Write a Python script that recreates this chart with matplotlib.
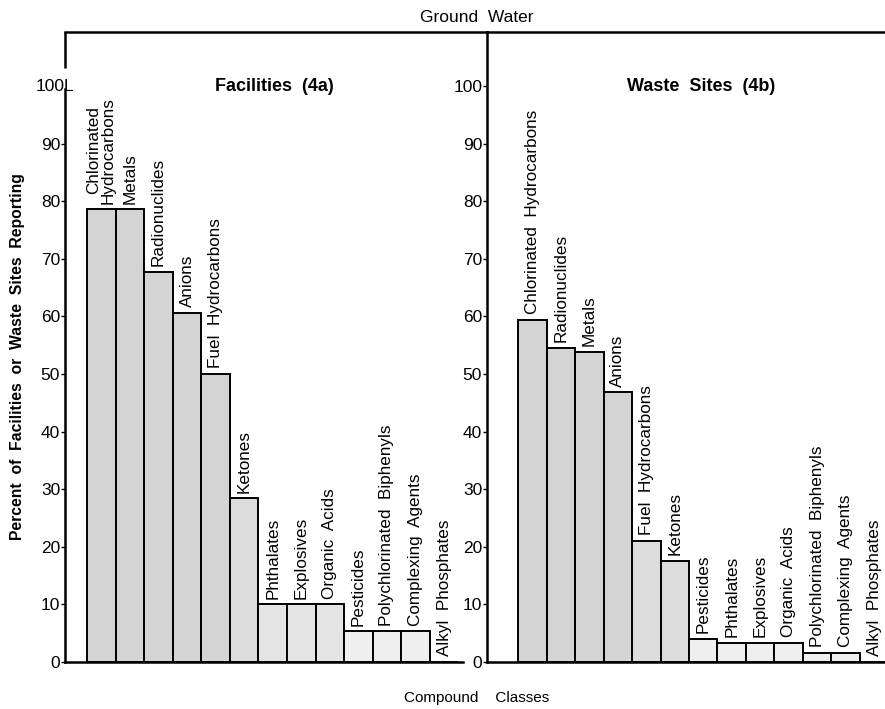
import matplotlib
matplotlib.use("Agg")
import matplotlib.pyplot as plt
from matplotlib.transforms import blended_transform_factory

plt.rcParams['font.family'] = ['Liberation Sans', 'DejaVu Sans']

# ---- data ----
fac_classes = ["Chlorinated\nHydrocarbons", "Metals", "Radionuclides", "Anions",
               "Fuel  Hydrocarbons", "Ketones", "Phthalates", "Explosives",
               "Organic  Acids", "Pesticides", "Polychlorinated  Biphenyls",
               "Complexing  Agents", "Alkyl  Phosphates"]
fac_values = [78.6, 78.6, 67.7, 60.6, 50.0, 28.4, 10.0, 10.0, 10.0, 5.3, 5.3, 5.3, 0.0]

ws_classes = ["Chlorinated  Hydrocarbons", "Radionuclides", "Metals", "Anions",
              "Fuel  Hydrocarbons", "Ketones", "Pesticides", "Phthalates",
              "Explosives", "Organic  Acids", "Polychlorinated  Biphenyls",
              "Complexing  Agents", "Alkyl  Phosphates"]
ws_values = [59.4, 54.5, 53.8, 46.8, 21.0, 17.5, 4.0, 3.3, 3.3, 3.3, 1.6, 1.6, 0.0]

left_yticks = [0, 10, 20, 30, 40, 50, 60, 70, 80, 90]
left_ticklabels = ["0", "10", "20", "30", "40", "50", "60", "70", "80", "90"]
right_yticks = [0, 10, 20, 30, 40, 50, 60, 70, 80, 90, 100]
right_ticklabels = [str(v) for v in right_yticks]

W, H = 885, 709
fig = plt.figure(figsize=(W / 100, H / 100), dpi=100)


def box(x0, x1, y0, y1):
    return [x0 / W, 1 - y1 / H, (x1 - x0) / W, (y1 - y0) / H]


def shade(v):
    if v >= 45:
        return '#d4d4d4'
    if v >= 15:
        return '#dcdcdc'
    if v >= 8:
        return '#e4e4e4'
    return '#efefef'


def panel(ax, classes, values, ticks, ticklabels, xlim, base_end):
    xs = list(range(len(values)))
    ax.bar(xs, values, width=1.0, align='edge',
           color=[shade(v) for v in values], edgecolor='black', linewidth=1.4)
    for x, v, name in zip(xs, values, classes):
        ax.text(x + 0.5, v + 1.0, name, rotation=90, ha='center', va='bottom',
                fontsize=12.3, linespacing=0.95)
    ax.set_xlim(*xlim)
    ax.set_ylim(0, 109.4)
    ax.set_xticks([])
    ax.set_yticks(ticks)
    ax.set_yticklabels(ticklabels, fontsize=12.5)
    ax.tick_params(axis='y', direction='out', length=3, width=1.0, pad=0.5)
    ax.spines['right'].set_visible(False)
    for s in ('left', 'top', 'bottom'):
        ax.spines[s].set_linewidth(1.8)
    ax.spines['bottom'].set_bounds(xlim[0], base_end)
    ax.patch.set_alpha(0)


axL = fig.add_axes(box(65, 487, 32, 662))
panel(axL, fac_classes, fac_values, left_yticks, left_ticklabels, (-0.77, 14.0), 13.15)
axL.text(6.57, 100, "Facilities  (4a)", ha='center', va='center',
         fontsize=13, fontweight='bold')
# left axis line with the gap at 100 as in the original print
axL.spines['left'].set_bounds(0, 99.5)
axL.plot([-0.77, -0.77], [103.2, 109.4], color='black', lw=1.8,
         clip_on=False, solid_capstyle='butt')
trL = blended_transform_factory(fig.transFigure, axL.transData)
axL.text(74 / W, 100, "100L", transform=trL, ha='right', va='center', fontsize=12.5)

axR = fig.add_axes(box(487, 885, 32, 662))
panel(axR, ws_classes, ws_values, right_yticks, right_ticklabels, (-1.09, 12.88), 12.88)
axR.text(6.42, 100, "Waste  Sites  (4b)", ha='center', va='center',
         fontsize=13, fontweight='bold')

fig.text(477 / W, 1 - 18 / H, "Ground  Water", ha='center', va='center', fontsize=12.5)
fig.text(477 / W, 1 - 698 / H, "Compound    Classes", ha='center', va='center', fontsize=11)
fig.text(18 / W, 1 - 357 / H, "Percent  of  Facilities  or  Waste  Sites  Reporting",
         rotation=90, ha='center', va='center', fontsize=11.3, fontweight='bold')

fig.savefig("out.png", dpi=100)
